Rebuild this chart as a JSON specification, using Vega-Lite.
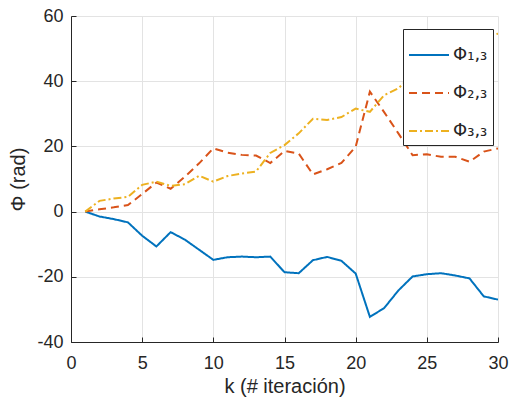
{
  "$schema": "https://vega.github.io/schema/vega-lite/v6.json",
  "width": 427,
  "height": 326,
  "autosize": {"type": "none"},
  "padding": {"left": 71, "top": 16, "right": 18, "bottom": 58},
  "background": "white",
  "config": {
    "view": {"stroke": null},
    "font": "Liberation Sans",
    "axis": {
      "domainColor": "#262626",
      "tickColor": "#262626",
      "tickSize": -5,
      "labelColor": "#262626",
      "titleColor": "#262626",
      "labelFont": "Liberation Sans",
      "titleFont": "Liberation Sans",
      "labelFontSize": 18,
      "titleFontSize": 20,
      "titleFontWeight": "normal",
      "gridColor": "#e3e3e3",
      "gridWidth": 1,
      "labelFlush": false,
      "labelExpr": "'' + datum.value"
    },
    "legend": {
      "orient": "none",
      "legendX": 332,
      "legendY": 13,
      "strokeColor": "#262626",
      "fillColor": "white",
      "padding": 5,
      "symbolType": "stroke",
      "symbolSize": 1600,
      "symbolStrokeWidth": 2,
      "labelFontSize": 18,
      "labelFont": "DejaVu Sans",
      "labelColor": "#262626",
      "labelOffset": 3,
      "rowPadding": 8
    }
  },
  "data": {
    "values": [
      {"k": 1, "s": "Φ₁,₃", "v": 0},
      {"k": 2, "s": "Φ₁,₃", "v": -1.5},
      {"k": 3, "s": "Φ₁,₃", "v": -2.3},
      {"k": 4, "s": "Φ₁,₃", "v": -3.3},
      {"k": 5, "s": "Φ₁,₃", "v": -7.4},
      {"k": 6, "s": "Φ₁,₃", "v": -10.7},
      {"k": 7, "s": "Φ₁,₃", "v": -6.3},
      {"k": 8, "s": "Φ₁,₃", "v": -8.6},
      {"k": 9, "s": "Φ₁,₃", "v": -11.7},
      {"k": 10, "s": "Φ₁,₃", "v": -14.8},
      {"k": 11, "s": "Φ₁,₃", "v": -14.0},
      {"k": 12, "s": "Φ₁,₃", "v": -13.8},
      {"k": 13, "s": "Φ₁,₃", "v": -14.0},
      {"k": 14, "s": "Φ₁,₃", "v": -13.8},
      {"k": 15, "s": "Φ₁,₃", "v": -18.6},
      {"k": 16, "s": "Φ₁,₃", "v": -18.9},
      {"k": 17, "s": "Φ₁,₃", "v": -14.9},
      {"k": 18, "s": "Φ₁,₃", "v": -13.9},
      {"k": 19, "s": "Φ₁,₃", "v": -15.1},
      {"k": 20, "s": "Φ₁,₃", "v": -19.0},
      {"k": 21, "s": "Φ₁,₃", "v": -32.3},
      {"k": 22, "s": "Φ₁,₃", "v": -29.6},
      {"k": 23, "s": "Φ₁,₃", "v": -24.2},
      {"k": 24, "s": "Φ₁,₃", "v": -19.9},
      {"k": 25, "s": "Φ₁,₃", "v": -19.2},
      {"k": 26, "s": "Φ₁,₃", "v": -18.9},
      {"k": 27, "s": "Φ₁,₃", "v": -19.6},
      {"k": 28, "s": "Φ₁,₃", "v": -20.5},
      {"k": 29, "s": "Φ₁,₃", "v": -26.0},
      {"k": 30, "s": "Φ₁,₃", "v": -27.0},
      {"k": 1, "s": "Φ₂,₃", "v": 0},
      {"k": 2, "s": "Φ₂,₃", "v": 0.7},
      {"k": 3, "s": "Φ₂,₃", "v": 1.3},
      {"k": 4, "s": "Φ₂,₃", "v": 2.0},
      {"k": 5, "s": "Φ₂,₃", "v": 5.4},
      {"k": 6, "s": "Φ₂,₃", "v": 8.9},
      {"k": 7, "s": "Φ₂,₃", "v": 7.0},
      {"k": 8, "s": "Φ₂,₃", "v": 10.7},
      {"k": 9, "s": "Φ₂,₃", "v": 14.8},
      {"k": 10, "s": "Φ₂,₃", "v": 19.4},
      {"k": 11, "s": "Φ₂,₃", "v": 18.1},
      {"k": 12, "s": "Φ₂,₃", "v": 17.4},
      {"k": 13, "s": "Φ₂,₃", "v": 17.2},
      {"k": 14, "s": "Φ₂,₃", "v": 14.9},
      {"k": 15, "s": "Φ₂,₃", "v": 18.6},
      {"k": 16, "s": "Φ₂,₃", "v": 17.8},
      {"k": 17, "s": "Φ₂,₃", "v": 11.4},
      {"k": 18, "s": "Φ₂,₃", "v": 13.0},
      {"k": 19, "s": "Φ₂,₃", "v": 14.9},
      {"k": 20, "s": "Φ₂,₃", "v": 19.9},
      {"k": 21, "s": "Φ₂,₃", "v": 36.8},
      {"k": 22, "s": "Φ₂,₃", "v": 30.5},
      {"k": 23, "s": "Φ₂,₃", "v": 24.0},
      {"k": 24, "s": "Φ₂,₃", "v": 17.3},
      {"k": 25, "s": "Φ₂,₃", "v": 17.6},
      {"k": 26, "s": "Φ₂,₃", "v": 16.8},
      {"k": 27, "s": "Φ₂,₃", "v": 16.8},
      {"k": 28, "s": "Φ₂,₃", "v": 15.3},
      {"k": 29, "s": "Φ₂,₃", "v": 18.4},
      {"k": 30, "s": "Φ₂,₃", "v": 19.4},
      {"k": 1, "s": "Φ₃,₃", "v": 0},
      {"k": 2, "s": "Φ₃,₃", "v": 3.3},
      {"k": 3, "s": "Φ₃,₃", "v": 4.0},
      {"k": 4, "s": "Φ₃,₃", "v": 4.5},
      {"k": 5, "s": "Φ₃,₃", "v": 8.2},
      {"k": 6, "s": "Φ₃,₃", "v": 9.2},
      {"k": 7, "s": "Φ₃,₃", "v": 7.9},
      {"k": 8, "s": "Φ₃,₃", "v": 8.4},
      {"k": 9, "s": "Φ₃,₃", "v": 11.0},
      {"k": 10, "s": "Φ₃,₃", "v": 9.2},
      {"k": 11, "s": "Φ₃,₃", "v": 10.9},
      {"k": 12, "s": "Φ₃,₃", "v": 11.7},
      {"k": 13, "s": "Φ₃,₃", "v": 12.3},
      {"k": 14, "s": "Φ₃,₃", "v": 18.0},
      {"k": 15, "s": "Φ₃,₃", "v": 20.4},
      {"k": 16, "s": "Φ₃,₃", "v": 24.0},
      {"k": 17, "s": "Φ₃,₃", "v": 28.5},
      {"k": 18, "s": "Φ₃,₃", "v": 28.1},
      {"k": 19, "s": "Φ₃,₃", "v": 29.0},
      {"k": 20, "s": "Φ₃,₃", "v": 31.6},
      {"k": 21, "s": "Φ₃,₃", "v": 30.6},
      {"k": 22, "s": "Φ₃,₃", "v": 35.7},
      {"k": 23, "s": "Φ₃,₃", "v": 37.8},
      {"k": 24, "s": "Φ₃,₃", "v": 42.0},
      {"k": 25, "s": "Φ₃,₃", "v": 45.0},
      {"k": 26, "s": "Φ₃,₃", "v": 47.5},
      {"k": 27, "s": "Φ₃,₃", "v": 50.0},
      {"k": 28, "s": "Φ₃,₃", "v": 52.0},
      {"k": 29, "s": "Φ₃,₃", "v": 53.6},
      {"k": 30, "s": "Φ₃,₃", "v": 54.6}
    ]
  },
  "mark": {"type": "line", "strokeWidth": 2, "clip": true},
  "encoding": {
    "x": {
      "field": "k",
      "type": "quantitative",
      "scale": {"domain": [0, 30], "nice": false},
      "axis": {"values": [0, 5, 10, 15, 20, 25, 30], "title": "k (# iteración)", "labelPadding": 17, "titlePadding": 4, "grid": true}
    },
    "y": {
      "field": "v",
      "type": "quantitative",
      "scale": {"domain": [-40, 60], "nice": false},
      "axis": {"values": [-40, -20, 0, 20, 40, 60], "title": "Φ (rad)", "labelPadding": 13, "titlePadding": 8, "grid": true}
    },
    "color": {
      "field": "s",
      "type": "nominal",
      "scale": {"domain": ["Φ₁,₃", "Φ₂,₃", "Φ₃,₃"], "range": ["#0072BD", "#D95319", "#EDB120"]},
      "legend": {"title": null}
    },
    "strokeDash": {
      "field": "s",
      "type": "nominal",
      "scale": {"domain": ["Φ₁,₃", "Φ₂,₃", "Φ₃,₃"], "range": [[1, 0], [8, 5], [8, 3, 2, 3]]},
      "legend": {"title": null}
    }
  }
}
